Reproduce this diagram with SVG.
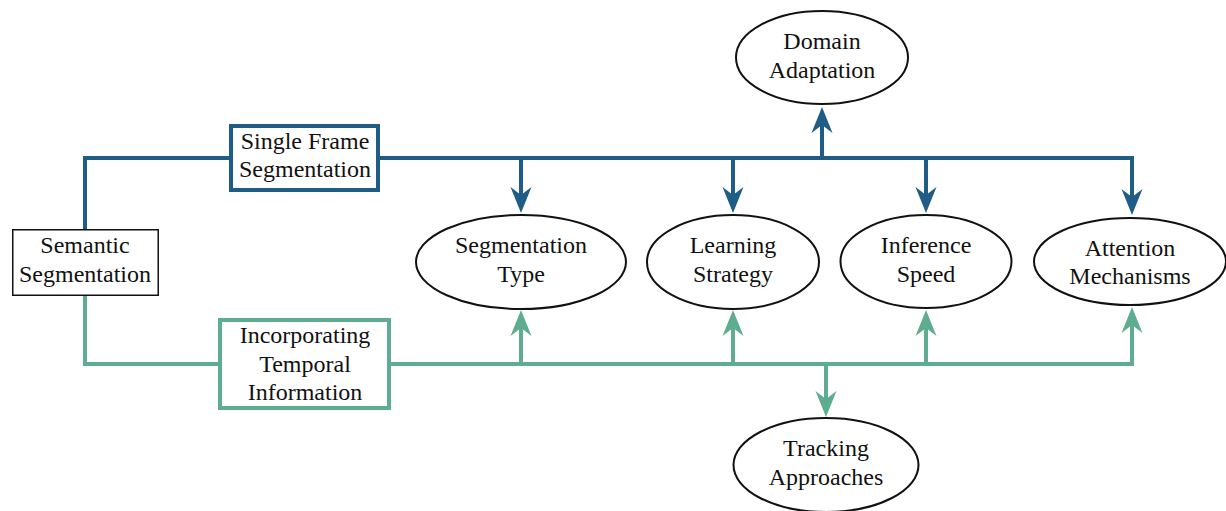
<svg xmlns="http://www.w3.org/2000/svg" width="1226" height="511" viewBox="0 0 1226 511">
<style>
text{font-family:'Liberation Serif','Tinos','Times New Roman','DejaVu Serif',serif;font-size:24px;fill:#111;text-anchor:middle}
.ell{fill:#fff;stroke:#111;stroke-width:2}
.blue{fill:none;stroke:#1f5d87;stroke-width:4;stroke-linejoin:miter}
.green{fill:none;stroke:#5fad91;stroke-width:4;stroke-linejoin:miter}
</style>
<defs>
<marker id="ab" markerUnits="userSpaceOnUse" markerWidth="40" markerHeight="40" refX="0" refY="0" orient="auto" overflow="visible">
<path d="M15,0 L-11,-10.5 L-3,0 L-11,10.5 Z" fill="#1f5d87"/>
</marker>
<marker id="ag" markerUnits="userSpaceOnUse" markerWidth="40" markerHeight="40" refX="0" refY="0" orient="auto" overflow="visible">
<path d="M15,0 L-11,-10.5 L-3,0 L-11,10.5 Z" fill="#5fad91"/>
</marker>
</defs>
<rect width="1226" height="511" fill="#fff"/>
<g id="connectors">
<path class="blue" d="M85,229 V158 H231"/>
<path class="blue" d="M378,158 H1132 V200" marker-end="url(#ab)"/>
<path class="blue" d="M521,158 V198" marker-end="url(#ab)"/>
<path class="blue" d="M733,158 V198" marker-end="url(#ab)"/>
<path class="blue" d="M926,158 V198" marker-end="url(#ab)"/>
<path class="blue" d="M822,158 V122" marker-end="url(#ab)"/>
<path class="green" d="M85,296 V364 H220"/>
<path class="green" d="M389,364 H1132 V322" marker-end="url(#ag)"/>
<path class="green" d="M521,364 V325" marker-end="url(#ag)"/>
<path class="green" d="M733,364 V325" marker-end="url(#ag)"/>
<path class="green" d="M926,364 V325" marker-end="url(#ag)"/>
<path class="green" d="M826,364 V402" marker-end="url(#ag)"/>
</g>
<g id="semantic">
<rect x="12.75" y="229.75" width="145.5" height="65.5" fill="#fff" stroke="#111" stroke-width="1.5"/>
<text x="85" y="253">Semantic</text>
<text x="85" y="282">Segmentation</text>
</g>
<g id="single-frame">
<rect x="231" y="126" width="147" height="64" fill="#fff" stroke="#1f5d87" stroke-width="4"/>
<text x="305" y="149">Single Frame</text>
<text x="305" y="177">Segmentation</text>
</g>
<g id="temporal">
<rect x="220" y="320" width="169" height="88" fill="#fff" stroke="#5fad91" stroke-width="4"/>
<text x="305" y="343">Incorporating</text>
<text x="305" y="372">Temporal</text>
<text x="305" y="400">Information</text>
</g>
<g id="domain">
<ellipse class="ell" cx="822" cy="57.5" rx="86" ry="46.5"/>
<text x="822" y="49">Domain</text>
<text x="822" y="78">Adaptation</text>
</g>
<g id="seg-type">
<ellipse class="ell" cx="521" cy="262" rx="105" ry="47"/>
<text x="521" y="253">Segmentation</text>
<text x="521" y="282">Type</text>
</g>
<g id="learning">
<ellipse class="ell" cx="733" cy="262" rx="86" ry="47"/>
<text x="733" y="253">Learning</text>
<text x="733" y="282">Strategy</text>
</g>
<g id="inference">
<ellipse class="ell" cx="926" cy="261.5" rx="85.5" ry="46.5"/>
<text x="926" y="253">Inference</text>
<text x="926" y="282">Speed</text>
</g>
<g id="attention">
<ellipse class="ell" cx="1130" cy="261.5" rx="96" ry="43.5"/>
<text x="1130" y="256">Attention</text>
<text x="1130" y="284">Mechanisms</text>
</g>
<g id="tracking">
<ellipse class="ell" cx="826" cy="465" rx="92.5" ry="47"/>
<text x="826" y="456">Tracking</text>
<text x="826" y="485">Approaches</text>
</g>
</svg>
